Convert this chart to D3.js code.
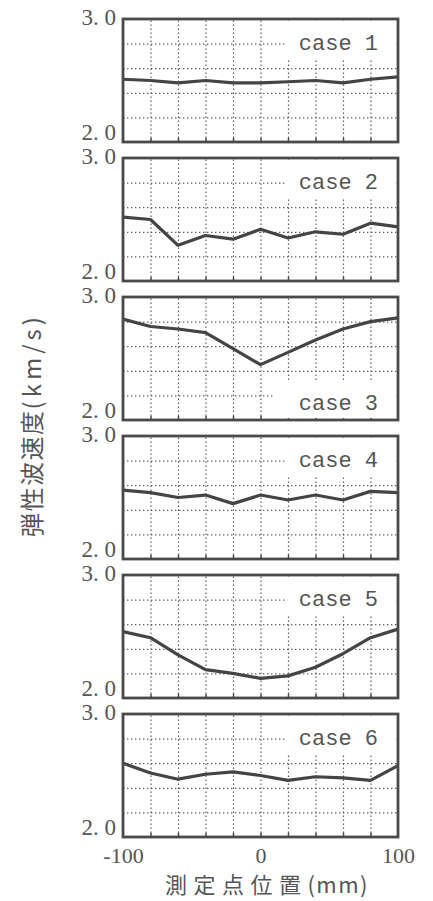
<!DOCTYPE html>
<html>
<head>
<meta charset="utf-8">
<script src="https://cdn.jsdelivr.net/npm/d3@7"></script>
<style>
  html, body { margin: 0; padding: 0; background: #fff; }
  svg { display: block; }
</style>
</head>
<body>
<svg id="chart" width="433" height="901"></svg>
<script>
// Measurement positions (mm) along the specimen
const positions = [-100, -80, -60, -40, -20, 0, 20, 40, 60, 80, 100];

// Elastic wave velocity (km/s) for each case
const case1 = [2.51, 2.50, 2.48, 2.50, 2.48, 2.48, 2.49, 2.50, 2.48, 2.51, 2.53];
const case2 = [2.52, 2.50, 2.29, 2.37, 2.34, 2.42, 2.35, 2.40, 2.38, 2.47, 2.44];
const case3 = [2.82, 2.76, 2.74, 2.71, 2.58, 2.45, 2.55, 2.65, 2.74, 2.80, 2.83];
const case4 = [2.56, 2.54, 2.50, 2.52, 2.45, 2.52, 2.48, 2.52, 2.48, 2.55, 2.54];
const case5 = [2.54, 2.49, 2.35, 2.23, 2.20, 2.16, 2.18, 2.25, 2.36, 2.49, 2.56];
const case6 = [2.60, 2.52, 2.47, 2.51, 2.53, 2.50, 2.46, 2.49, 2.48, 2.46, 2.58];

const caseNames = ["case 1", "case 2", "case 3", "case 4", "case 5", "case 6"];
const caseSeries = [case1, case2, case3, case4, case5, case6];
// case 3 sits high in its panel, so its label goes to the lower corner
const labelAtBottom = [false, false, true, false, false, false];

const yTickLabels = ["2. 0", "3. 0"];
const xTickLabels = ["-100", "0", "100"];
const xTitle = ["測定点位置", "(mm)"];
const yTitle = ["弾性波速度", "(km/s)"];

const svg = d3.select("#chart");
const left = 123, width = 275;
const firstTop = 19, step = 139, panelH = 123;

const ink = "#4a4a4a";
const textInk = "#555";
const serif = "'Liberation Serif', 'DejaVu Serif', serif";
const mono = "'Liberation Mono', 'DejaVu Sans Mono', monospace";
const cjk = "'Noto Sans CJK JP', 'Noto Sans CJK SC', sans-serif";

const x = d3.scaleLinear().domain([-100, 100]).range([left, left + width]);
const gridX = d3.range(-80, 81, 20);
const gridY = [2.2, 2.4, 2.6, 2.8];

caseSeries.forEach((values, i) => {
  const top = firstTop + i * step;
  const bottom = top + panelH;
  const y = d3.scaleLinear().domain([2.0, 3.0]).range([bottom, top]);
  const g = svg.append("g");

  // dotted grid
  const vgrid = g.append("g")
    .attr("transform", `translate(0,${bottom})`)
    .call(d3.axisBottom(x).tickValues(gridX).tickSize(-panelH).tickFormat(""));
  vgrid.select(".domain").remove();
  vgrid.selectAll("line").attr("stroke", "#5f5f5f").attr("stroke-width", 1.2)
    .attr("stroke-dasharray", "1.4,2.6");

  const hgrid = g.append("g")
    .attr("transform", `translate(${left},0)`)
    .call(d3.axisLeft(y).tickValues(gridY).tickSize(-width).tickFormat(""));
  hgrid.select(".domain").remove();
  hgrid.selectAll("line").attr("stroke", "#5f5f5f").attr("stroke-width", 1.2)
    .attr("stroke-dasharray", "1.4,2.6");

  // small inward ticks on the bottom edge
  const ticks = g.append("g")
    .attr("transform", `translate(0,${bottom})`)
    .call(d3.axisBottom(x).tickValues(gridX).tickSize(-4).tickFormat(""));
  ticks.select(".domain").remove();
  ticks.selectAll("line").attr("stroke", ink).attr("stroke-width", 1.5);

  // label box clears the grid behind the case name
  const bottomLabel = labelAtBottom[i];
  if (bottomLabel) {
    g.append("rect").attr("x", 275).attr("y", bottom - 40)
      .attr("width", 121).attr("height", 38).attr("fill", "#fff");
  } else {
    g.append("rect").attr("x", 285).attr("y", top + 2)
      .attr("width", 111).attr("height", 37).attr("fill", "#fff");
  }
  g.append("text")
    .attr("x", 378)
    .attr("y", bottomLabel ? bottom - 10 : top + 31)
    .attr("text-anchor", "end")
    .attr("font-family", mono)
    .attr("font-size", 22)
    .attr("fill", textInk)
    .text(caseNames[i]);

  // velocity profile
  const line = d3.line().x((d, k) => x(positions[k])).y(d => y(d));
  g.append("path")
    .datum(values)
    .attr("d", line)
    .attr("fill", "none")
    .attr("stroke", "#444")
    .attr("stroke-width", 3.2)
    .attr("stroke-linejoin", "round");

  // frame
  g.append("rect")
    .attr("x", left).attr("y", top)
    .attr("width", width).attr("height", panelH)
    .attr("fill", "none")
    .attr("stroke", ink)
    .attr("stroke-width", 2.8);

  // y tick labels
  g.append("text")
    .attr("x", 116).attr("y", top + 6)
    .attr("text-anchor", "end")
    .attr("font-family", serif).attr("font-size", 23)
    .attr("fill", textInk)
    .text(yTickLabels[1]);
  g.append("text")
    .attr("x", 116).attr("y", bottom - 2)
    .attr("text-anchor", "end")
    .attr("font-family", serif).attr("font-size", 23)
    .attr("fill", textInk)
    .text(yTickLabels[0]);

  // x tick labels on the last panel
  if (i === caseSeries.length - 1) {
    const xa = g.append("g")
      .attr("transform", `translate(0,${bottom})`)
      .call(d3.axisBottom(x).tickValues(xTickLabels.map(Number))
        .tickSize(0).tickPadding(10).tickFormat((d, k) => xTickLabels[k]));
    xa.select(".domain").remove();
    xa.selectAll("text")
      .attr("font-family", serif).attr("font-size", 22)
      .attr("fill", textInk)
      .attr("dy", "0.71em");
  }
});

// axis titles
const xt = svg.append("text")
  .attr("x", 267).attr("y", 893)
  .attr("text-anchor", "middle")
  .attr("font-family", cjk).attr("font-size", 22)
  .attr("fill", textInk);
xt.append("tspan").attr("letter-spacing", 6.5).text(xTitle[0]);
xt.append("tspan").attr("letter-spacing", 1.5).text(xTitle[1]);

const yt = svg.append("text")
  .attr("transform", "translate(41,425) rotate(-90)")
  .attr("text-anchor", "middle")
  .attr("font-family", cjk).attr("font-size", 24)
  .attr("fill", textInk);
yt.append("tspan").attr("letter-spacing", 1.5).text(yTitle[0]);
yt.append("tspan").attr("letter-spacing", 4).text(yTitle[1]);
</script>
</body>
</html>
